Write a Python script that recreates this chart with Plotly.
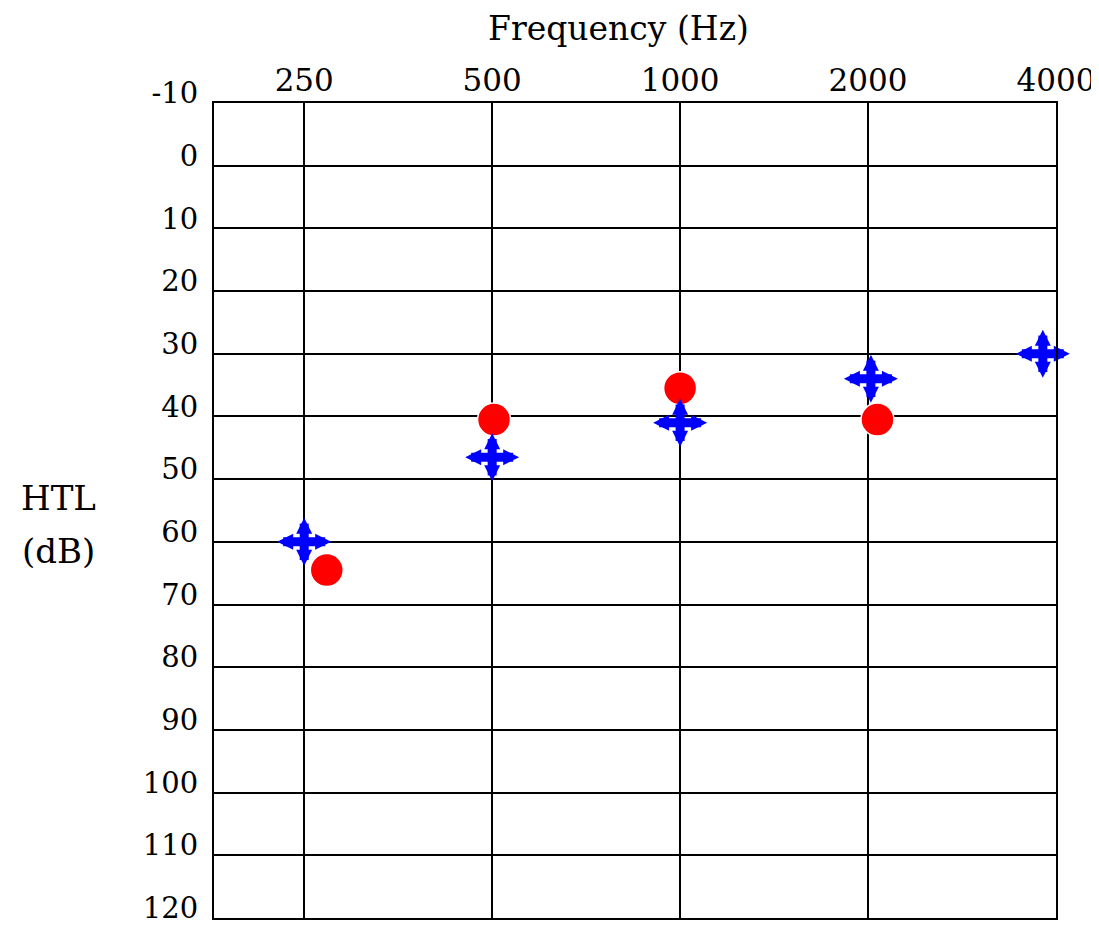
"""
Audiogram: hearing threshold level per frequency, two ears / conditions.
"""

import plotly.graph_objects as go

# values
freqs = ["250", "500", "1000", "2000", "4000"]
cross_db = [60, 46.5, 41, 34, 30]
cross_shift = [0, 0, 0, 0.015, -0.07]
circle_db = [64.5, 40.5, 35.5, 40.5, 31]
circle_shift = [0.12, 0.01, 0, 0.05, 0.1]
htl_ticks = list(range(-10, 121, 10))
htl_labels = [str(v) for v in htl_ticks]

FONT = "DejaVu Serif"
BLUE = "#0000ff"
RED = "#ff0000"

idx = list(range(len(freqs)))
cross_x = [i + s for i, s in zip(idx, cross_shift)]
circle_x = [i + s for i, s in zip(idx, circle_shift)]

fig = go.Figure()

# red circles
fig.add_trace(go.Scatter(
    x=circle_x, y=circle_db, mode="markers", cliponaxis=False,
    marker=dict(symbol="circle", size=33, color=RED,
                line=dict(color="white", width=1.5)),
    showlegend=False, hoverinfo="skip",
))

# blue four-way arrow crosses: two shafts plus four arrow heads
for sym, size in [("line-ew", 30), ("line-ns", 26)]:
    fig.add_trace(go.Scatter(
        x=cross_x, y=cross_db, mode="markers", cliponaxis=False,
        marker=dict(symbol=sym, size=size, color=BLUE,
                    line=dict(color=BLUE, width=9)),
        showlegend=False, hoverinfo="skip",
    ))
# arrow-down rotated by angle, pushed out from the centre by standoff
for angle, off in [(180, 24), (0, 24), (90, 27), (270, 27)]:
    fig.add_trace(go.Scatter(
        x=cross_x, y=cross_db, mode="markers", cliponaxis=False,
        marker=dict(symbol="arrow-down", size=16, color=BLUE,
                    angle=angle, standoff=off,
                    line=dict(color=BLUE, width=0)),
        showlegend=False, hoverinfo="skip",
    ))

fig.add_annotation(
    text="Frequency (Hz)", xref="paper", yref="paper", x=0.48, y=1.092,
    xanchor="center", yanchor="middle", showarrow=False,
    font=dict(family=FONT, size=33, color="black"),
)
for txt, ypos in [("HTL", 0.515), ("(dB)", 0.450)]:
    fig.add_annotation(
        text=txt, xref="paper", yref="paper", x=-0.185, y=ypos,
        xanchor="center", yanchor="middle", showarrow=False,
        font=dict(family=FONT, size=34, color="black"),
    )

fig.update_xaxes(
    range=[-0.48, 4], tickvals=idx, ticktext=freqs, side="top",
    showgrid=True, gridcolor="black", gridwidth=2,
    showline=True, linecolor="black", linewidth=2, mirror=True,
    ticks="", ticklabelstandoff=-2, ticklabeloverflow="allow",
    tickfont=dict(family=FONT, size=31, color="black"),
    zeroline=False, automargin=False,
)
fig.update_yaxes(
    range=[120, -10], tickvals=htl_ticks, ticktext=htl_labels,
    showgrid=True, gridcolor="black", gridwidth=2,
    showline=True, linecolor="black", linewidth=2, mirror=True,
    ticks="", ticklabelstandoff=8, ticklabelshift=10, ticklabeloverflow="allow",
    tickfont=dict(family=FONT, size=29, color="black"),
    zeroline=False, automargin=False,
)
# the page adds an 8px body margin, so the figure is trimmed to match
fig.update_layout(
    width=1091, height=917,
    margin=dict(l=206, r=43, t=95, b=7),
    plot_bgcolor="white", paper_bgcolor="white",
)

fig.write_html("out.html")
